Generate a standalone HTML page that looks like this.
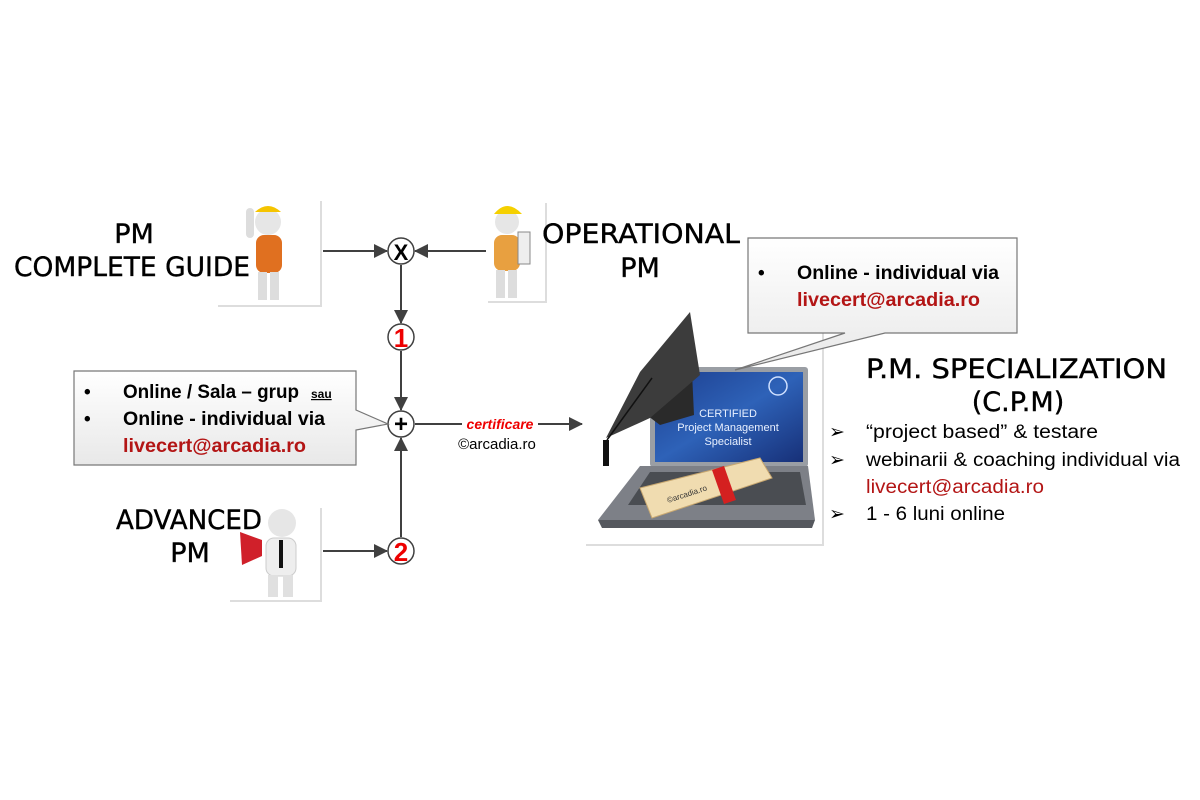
<!DOCTYPE html>
<html><head><meta charset="utf-8"><style>
body{margin:0;background:#fff;width:1200px;height:800px;overflow:hidden}
svg{display:block}
.c{font-family:"Comic Sans MS","DejaVu Sans",sans-serif;fill:#000;stroke:#000;stroke-width:0.4}
.t{font-family:"Liberation Sans",sans-serif}
</style></head><body>
<svg width="1200" height="800" viewBox="0 0 1200 800">
<defs>
<marker id="a" markerWidth="14" markerHeight="14" refX="13" refY="7" orient="auto" markerUnits="userSpaceOnUse"><path d="M0,0 L14,7 L0,14 z" fill="#404040"/></marker>
<linearGradient id="g" x1="0" y1="0" x2="0" y2="1"><stop offset="0" stop-color="#fff"/><stop offset="1" stop-color="#e8e8e8"/></linearGradient>
<linearGradient id="scr" x1="0" y1="0" x2="1" y2="1"><stop offset="0" stop-color="#1d3f8f"/><stop offset="0.5" stop-color="#2e62b8"/><stop offset="1" stop-color="#173078"/></linearGradient>
</defs>
<path d="M321,201 V306 H218" stroke="#ddd" stroke-width="2" fill="none"/>
<path d="M546,203 V302 H488" stroke="#ddd" stroke-width="2" fill="none"/>
<path d="M321,508 V601 H230" stroke="#ddd" stroke-width="2" fill="none"/>
<path d="M823,312 V545 H586" stroke="#ddd" stroke-width="2" fill="none"/>
<g>
<circle cx="268" cy="222" r="13" fill="#e6e6e6"/><path d="M255,212 Q268,200 281,212 z" fill="#f5c400"/>
<rect x="256" y="235" width="26" height="38" rx="8" fill="#e07020"/>
<rect x="246" y="208" width="8" height="30" rx="4" fill="#ddd"/>
<rect x="258" y="272" width="9" height="28" fill="#ddd"/><rect x="270" y="272" width="9" height="28" fill="#ddd"/>
</g>
<g>
<circle cx="507" cy="222" r="12" fill="#e6e6e6"/><path d="M494,214 Q507,198 522,214 z" fill="#f5d000"/>
<rect x="494" y="235" width="26" height="36" rx="8" fill="#e8a040"/>
<rect x="518" y="232" width="12" height="32" fill="#eee" stroke="#888"/>
<rect x="496" y="270" width="9" height="28" fill="#ddd"/><rect x="508" y="270" width="9" height="28" fill="#ddd"/>
</g>
<g>
<circle cx="282" cy="523" r="14" fill="#e6e6e6"/>
<rect x="266" y="538" width="30" height="38" rx="8" fill="#eee" stroke="#ccc"/>
<rect x="279" y="540" width="4" height="28" fill="#111"/>
<path d="M262,540 L240,532 L242,565 L262,556 z" fill="#d0202a"/>
<rect x="268" y="575" width="10" height="22" fill="#e0e0e0"/><rect x="283" y="575" width="10" height="22" fill="#e0e0e0"/>
</g>
<g>
<rect x="650" y="367" width="158" height="100" rx="3" fill="#9a9ea4"/>
<rect x="655" y="372" width="148" height="90" fill="url(#scr)"/>
<circle cx="778" cy="386" r="9" fill="none" stroke="#cfe0ff" stroke-width="1.5"/>
<text x="728" y="417" text-anchor="middle" class="t" font-size="11" fill="#e8f0ff">CERTIFIED</text>
<text x="728" y="431" text-anchor="middle" class="t" font-size="11" fill="#e8f0ff">Project Management</text>
<text x="728" y="445" text-anchor="middle" class="t" font-size="11" fill="#e8f0ff">Specialist</text>
<path d="M640,466 L808,466 L815,520 L598,520 z" fill="#7d8087"/>
<path d="M598,520 L815,520 L812,528 L602,528 z" fill="#55585e"/>
<path d="M650,472 L800,472 L806,505 L628,505 z" fill="#4a4d52"/>
<path d="M640,372 L692,372 L694,415 L660,425 L640,410 z" fill="#2a2a2a"/>
<path d="M690,312 L700,375 L650,418 L606,438 L640,372 z" fill="#3c3c3c"/>
<line x1="652" y1="378" x2="607" y2="440" stroke="#111" stroke-width="1.5"/>
<rect x="603" y="440" width="6" height="26" fill="#111"/>
<path d="M640,488 L760,458 L772,478 L652,518 z" fill="#f0dcb0" stroke="#c9a870"/>
<path d="M712,470 L724,466 L736,500 L724,504 z" fill="#d42020"/>
<text x="668" y="503" class="t" font-size="8" fill="#333" transform="rotate(-18 668 503)">©arcadia.ro</text>
</g>
<g stroke="#404040" stroke-width="2" fill="none">
<line x1="323" y1="251" x2="387" y2="251" marker-end="url(#a)"/>
<line x1="486" y1="251" x2="415" y2="251" marker-end="url(#a)"/>
<line x1="401" y1="265" x2="401" y2="323" marker-end="url(#a)"/>
<line x1="401" y1="351" x2="401" y2="410" marker-end="url(#a)"/>
<line x1="401" y1="537" x2="401" y2="438" marker-end="url(#a)"/>
<line x1="323" y1="551" x2="387" y2="551" marker-end="url(#a)"/>
<line x1="415" y1="424" x2="582" y2="424" marker-end="url(#a)"/>
</g>
<g stroke="#404040" stroke-width="1.5" fill="#fff">
<circle cx="401" cy="251" r="13"/><circle cx="401" cy="337" r="13"/><circle cx="401" cy="424" r="13"/><circle cx="401" cy="551" r="13"/>
</g>
<text x="401" y="260" text-anchor="middle" class="t" font-weight="bold" font-size="22">X</text>
<text x="401" y="347" text-anchor="middle" class="t" font-weight="bold" font-size="26" fill="#e00">1</text>
<text x="401" y="432" text-anchor="middle" class="t" font-weight="bold" font-size="24">+</text>
<text x="401" y="561" text-anchor="middle" class="t" font-weight="bold" font-size="26" fill="#e00">2</text>
<rect x="462" y="416" width="76" height="16" fill="#fff"/>
<text x="500" y="429" text-anchor="middle" class="t" font-weight="bold" font-style="italic" font-size="14" fill="#e00">certificare</text>
<text x="497" y="449" text-anchor="middle" class="t" font-size="15">©arcadia.ro</text>
<path d="M74,371 H356 V410 L388,424 L356,430 V465 H74 z" fill="url(#g)" stroke="#777" stroke-width="1.2"/>
<g class="t" font-weight="bold" font-size="19">
<text x="84" y="398">•</text><text x="123" y="398" textLength="176" lengthAdjust="spacingAndGlyphs">Online / Sala – grup</text><text x="311" y="398" font-size="12" text-decoration="underline">sau</text>
<text x="84" y="425">•</text><text x="123" y="425" textLength="202" lengthAdjust="spacingAndGlyphs">Online - individual via</text>
<text x="123" y="452" fill="#b31515" textLength="183" lengthAdjust="spacingAndGlyphs">livecert@arcadia.ro</text>
</g>
<path d="M748,238 H1017 V333 H885 L735,370 L845,333 H748 z" fill="url(#g)" stroke="#777" stroke-width="1.2"/>
<g class="t" font-weight="bold" font-size="19">
<text x="758" y="279">•</text><text x="797" y="279" textLength="202" lengthAdjust="spacingAndGlyphs">Online - individual via</text>
<text x="797" y="306" fill="#b31515" textLength="183" lengthAdjust="spacingAndGlyphs">livecert@arcadia.ro</text>
</g>
<g class="c" font-size="27">
<text x="134" y="243" text-anchor="middle">PM</text>
<text x="14" y="276" textLength="236" lengthAdjust="spacingAndGlyphs">COMPLETE GUIDE</text>
<text x="542" y="243" textLength="198" lengthAdjust="spacingAndGlyphs">OPERATIONAL</text>
<text x="640" y="277" text-anchor="middle">PM</text>
<text x="116" y="529" textLength="146" lengthAdjust="spacingAndGlyphs">ADVANCED</text>
<text x="190" y="562" text-anchor="middle">PM</text>
<text x="866" y="378" textLength="301" lengthAdjust="spacingAndGlyphs">P.M. SPECIALIZATION</text>
<text x="1018" y="411" text-anchor="middle">(C.P.M)</text>
</g>
<g class="t" font-size="19">
<text x="829" y="438">➢</text><text x="866" y="438" textLength="232" lengthAdjust="spacingAndGlyphs">“project based” &amp; testare</text>
<text x="829" y="466">➢</text><text x="866" y="466" textLength="314" lengthAdjust="spacingAndGlyphs">webinarii &amp; coaching individual via</text>
<text x="866" y="493" fill="#b31515" textLength="178" lengthAdjust="spacingAndGlyphs">livecert@arcadia.ro</text>
<text x="829" y="520">➢</text><text x="866" y="520" textLength="139" lengthAdjust="spacingAndGlyphs">1 - 6 luni online</text>
</g>
</svg>
</body></html>
